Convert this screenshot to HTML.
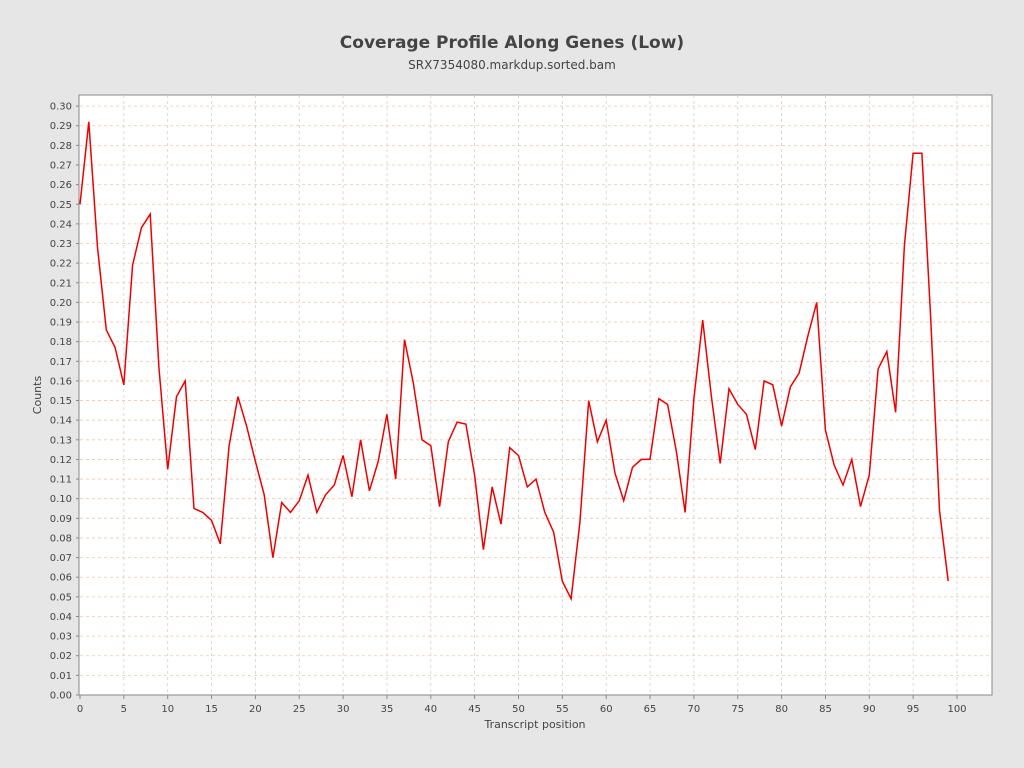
<!DOCTYPE html>
<html><head><style>
body{margin:0;background:#e6e6e6;}
svg{display:block;font-family:"DejaVu Sans","Liberation Sans",sans-serif;}
</style></head><body>
<svg width="1024" height="768" xmlns="http://www.w3.org/2000/svg">
<rect width="1024" height="768" fill="#e6e6e6"/>
<text x="512" y="48" text-anchor="middle" font-size="17" font-weight="bold" fill="#444">Coverage Profile Along Genes (Low)</text>
<text x="512" y="69" text-anchor="middle" font-size="12" fill="#444">SRX7354080.markdup.sorted.bam</text>
<rect x="79" y="95" width="913" height="600" fill="#fff" stroke="#888"/>
<g id="grid" stroke-dasharray="3,3" stroke-width="0.8"></g>
<g id="ticks" font-size="10" fill="#444"></g>
<text x="41" y="395" font-size="11" fill="#444" text-anchor="middle" transform="rotate(-90 41 395)">Counts</text>
<text x="535" y="728" font-size="11" fill="#444" text-anchor="middle">Transcript position</text>
<polyline id="line" fill="none" stroke="#ee0000" stroke-width="1.5"/>
<script>
var ns="http://www.w3.org/2000/svg";
var g=document.getElementById('grid'),t=document.getElementById('ticks');
function el(p,n,a){var e=document.createElementNS(ns,n);for(var k in a)e.setAttribute(k,a[k]);p.appendChild(e);return e;}
function X(v){return 80+v*8.77;}function Y(v){return 695-v*1963;}
for(var i=0;i<=30;i++){var y=Y(i/100);
 if(i>0)el(g,'line',{x1:80,x2:992,y1:y,y2:y,stroke:'#f2c8a8'});
 el(t,'line',{x1:76,x2:79,y1:y,y2:y,stroke:'#888'});
 var tx=el(t,'text',{x:72,y:y+3.5,'text-anchor':'end'});tx.textContent=(i/100).toFixed(2);}
for(var i=0;i<=100;i+=5){var x=X(i);
 if(i>0)el(g,'line',{x1:x,x2:x,y1:95,y2:695,stroke:'#d0d0d0'});
 el(t,'line',{x1:x,x2:x,y1:695,y2:699,stroke:'#888'});
 var tx=el(t,'text',{x:x,y:712,'text-anchor':'middle'});tx.textContent=i;}
var d=[0.250,0.292,0.228,0.186,0.177,0.158,0.219,0.238,0.245,0.167,0.115,0.152,0.160,0.095,0.093,0.089,0.077,0.127,0.152,0.137,0.119,0.102,0.070,0.098,0.093,0.099,0.112,0.093,0.102,0.107,0.122,0.101,0.130,0.104,0.119,0.143,0.110,0.181,0.159,0.130,0.127,0.096,0.129,0.139,0.138,0.112,0.074,0.106,0.087,0.126,0.122,0.106,0.110,0.093,0.083,0.058,0.049,0.088,0.150,0.129,0.140,0.113,0.099,0.116,0.120,0.120,0.151,0.148,0.124,0.093,0.151,0.191,0.152,0.118,0.156,0.148,0.143,0.125,0.160,0.158,0.137,0.157,0.164,0.183,0.200,0.135,0.117,0.107,0.120,0.096,0.112,0.166,0.175,0.144,0.229,0.276,0.276,0.192,0.094,0.058];
document.getElementById('line').setAttribute('points',d.map(function(v,i){return X(i).toFixed(1)+','+Y(v).toFixed(1)}).join(' '));
</script>
</svg>
</body></html>
